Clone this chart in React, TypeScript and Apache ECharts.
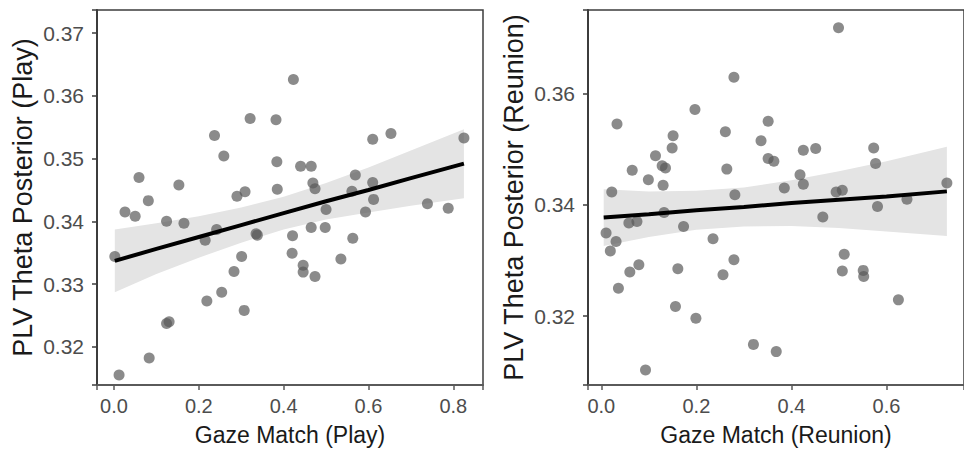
import React, { useEffect, useRef } from "react";
import * as echarts from "echarts";

// ---- Left panel (Play) ----
const playX = [0.423, 0.321, 0.382, 0.237, 0.610, 0.653, 0.825, 0.259, 0.384, 0.440, 0.465, 0.059, 0.153, 0.569, 0.469, 0.474, 0.385, 0.610, 0.290, 0.309, 0.081, 0.561, 0.612, 0.739, 0.788, 0.026, 0.050, 0.124, 0.165, 0.002, 0.215, 0.242, 0.335, 0.338, 0.500, 0.465, 0.498, 0.421, 0.420, 0.301, 0.283, 0.254, 0.219, 0.307, 0.446, 0.446, 0.474, 0.535, 0.563, 0.593, 0.124, 0.130, 0.083, 0.012];
const playY = [0.3626, 0.3564, 0.3562, 0.3537, 0.3531, 0.3540, 0.3533, 0.3504, 0.3495, 0.3488, 0.3488, 0.3470, 0.3458, 0.3474, 0.3461, 0.3452, 0.3451, 0.3462, 0.3440, 0.3447, 0.3433, 0.3448, 0.3435, 0.3428, 0.3421, 0.3415, 0.3408, 0.3400, 0.3397, 0.3344, 0.3370, 0.3387, 0.3380, 0.3378, 0.3419, 0.3390, 0.3390, 0.3377, 0.3349, 0.3344, 0.3320, 0.3287, 0.3273, 0.3258, 0.3330, 0.3319, 0.3312, 0.3340, 0.3373, 0.3415, 0.3237, 0.3240, 0.3182, 0.3155];
const playFitX = [0.002, 0.1, 0.2, 0.3, 0.4, 0.5, 0.6, 0.7, 0.825];
const playFitY = [0.3337, 0.3356, 0.3375, 0.3394, 0.3413, 0.3432, 0.3450, 0.3469, 0.3492];
const playUpper = [0.3387, 0.3397, 0.3408, 0.3422, 0.3439, 0.3461, 0.3486, 0.3513, 0.3547];
const playLower = [0.3287, 0.3316, 0.3342, 0.3366, 0.3387, 0.3403, 0.3414, 0.3425, 0.3437];
const playXTicks = [0.0, 0.2, 0.4, 0.6, 0.8];
const playYTicks = [0.32, 0.33, 0.34, 0.35, 0.36, 0.37];
const playXRange = [-0.04, 0.87];
const playYRange = [0.3139, 0.3737];

// ---- Right panel (Reunion) ----
const reunionX = [0.499, 0.279, 0.197, 0.033, 0.351, 0.151, 0.149, 0.261, 0.336, 0.425, 0.451, 0.573, 0.577, 0.114, 0.128, 0.135, 0.065, 0.099, 0.130, 0.264, 0.351, 0.363, 0.418, 0.425, 0.385, 0.494, 0.507, 0.727, 0.022, 0.281, 0.581, 0.643, 0.466, 0.132, 0.058, 0.075, 0.173, 0.010, 0.031, 0.019, 0.235, 0.279, 0.079, 0.060, 0.161, 0.256, 0.036, 0.511, 0.507, 0.551, 0.552, 0.625, 0.156, 0.199, 0.320, 0.368, 0.093];
const reunionY = [0.3718, 0.3629, 0.3571, 0.3545, 0.3550, 0.3524, 0.3502, 0.3531, 0.3515, 0.3498, 0.3501, 0.3502, 0.3474, 0.3488, 0.3470, 0.3466, 0.3462, 0.3445, 0.3435, 0.3464, 0.3483, 0.3478, 0.3454, 0.3437, 0.3430, 0.3423, 0.3426, 0.3439, 0.3423, 0.3418, 0.3397, 0.3410, 0.3378, 0.3386, 0.3367, 0.3370, 0.3361, 0.3349, 0.3334, 0.3317, 0.3339, 0.3301, 0.3292, 0.3279, 0.3285, 0.3274, 0.3250, 0.3311, 0.3281, 0.3282, 0.3271, 0.3229, 0.3217, 0.3196, 0.3149, 0.3136, 0.3103];
const reunionFitX = [0.005, 0.1, 0.2, 0.3, 0.4, 0.5, 0.6, 0.727];
const reunionFitY = [0.3377, 0.3383, 0.3390, 0.3396, 0.3403, 0.3409, 0.3415, 0.3424];
const reunionUpper = [0.3428, 0.3424, 0.3425, 0.3431, 0.3444, 0.3460, 0.3478, 0.3504];
const reunionLower = [0.3326, 0.3342, 0.3355, 0.3361, 0.3362, 0.3358, 0.3352, 0.3344];
const reunionXTicks = [0.0, 0.2, 0.4, 0.6];
const reunionYTicks = [0.32, 0.34, 0.36];
const reunionXRange = [-0.028, 0.763];
const reunionYRange = [0.3076, 0.375];

const FONT = "'Liberation Sans', Arial, sans-serif";
const TICK_COLOR = "#4d4d4d";
const AXIS_COLOR = "#3c3c3c";

function zip(a: number[], b: number[]) {
  return a.map((v, i) => [v, b[i]]);
}

function xAxisOpt(gridIndex: number, range: number[], ticks: number[], step: number, name: string) {
  return {
    type: "value",
    gridIndex,
    position: "bottom",
    min: range[0],
    max: range[1],
    minInterval: step,
    maxInterval: step,
    name,
    nameLocation: "middle",
    nameGap: 38,
    nameTextStyle: { color: "#1a1a1a", fontSize: 23, fontFamily: FONT },
    splitLine: { show: false },
    axisLine: { show: true, onZero: false, lineStyle: { color: "#5a5a5a", width: 2 } },
    axisTick: { show: true, inside: false, length: 5, lineStyle: { color: "#5a5a5a", width: 1.5 } },
    axisLabel: {
      customValues: ticks,
      color: TICK_COLOR,
      fontSize: 20,
      fontFamily: FONT,
      margin: 11,
      formatter: (v: number) => v.toFixed(1),
    },
  };
}

function yAxisOpt(gridIndex: number, range: number[], ticks: number[], step: number, name: string) {
  return {
    type: "value",
    gridIndex,
    position: "left",
    min: range[0],
    max: range[1],
    minInterval: step,
    maxInterval: step,
    name,
    nameLocation: "middle",
    nameGap: 61,
    nameTextStyle: { color: "#1a1a1a", fontSize: 27, fontFamily: FONT },
    splitLine: { show: false },
    axisLine: { show: true, onZero: false, lineStyle: { color: AXIS_COLOR, width: 2 } },
    axisTick: { show: true, inside: false, length: 5, lineStyle: { color: AXIS_COLOR, width: 1.5 } },
    axisLabel: {
      customValues: ticks,
      color: TICK_COLOR,
      fontSize: 21,
      fontFamily: FONT,
      margin: 13,
      formatter: (v: number) => v.toFixed(2),
    },
  };
}

function ribbonSeries(idx: number, xs: number[], up: number[], lo: number[]) {
  return {
    type: "custom",
    xAxisIndex: idx,
    yAxisIndex: idx,
    silent: true,
    z: 1,
    clip: true,
    data: [[xs[0], lo[0]]],
    renderItem: (_params: any, api: any) => {
      const pts: number[][] = [];
      for (let i = 0; i < xs.length; i++) pts.push(api.coord([xs[i], up[i]]));
      for (let i = xs.length - 1; i >= 0; i--) pts.push(api.coord([xs[i], lo[i]]));
      return {
        type: "polygon",
        shape: { points: pts },
        style: { fill: "#e4e4e4", stroke: "none" },
      };
    },
  };
}

function scatterSeries(idx: number, xs: number[], ys: number[]) {
  return {
    type: "scatter",
    xAxisIndex: idx,
    yAxisIndex: idx,
    z: 2,
    symbolSize: 11,
    itemStyle: { color: "#5a5a5a", opacity: 0.7 },
    data: zip(xs, ys),
  };
}

function fitSeries(idx: number, xs: number[], ys: number[]) {
  return {
    type: "line",
    xAxisIndex: idx,
    yAxisIndex: idx,
    z: 3,
    symbol: "none",
    lineStyle: { color: "#000000", width: 4 },
    data: zip(xs, ys),
  };
}

export default function App() {
  const ref = useRef<HTMLDivElement>(null);
  useEffect(() => {
    if (!ref.current) return;
    const chart = echarts.init(ref.current, null, { renderer: "svg" });
    const gridStyle = { show: true, borderColor: AXIS_COLOR, borderWidth: 1.5 };
    chart.setOption({
      animation: false,
      backgroundColor: "#ffffff",
      grid: [
        { left: 97, top: 10, width: 386, height: 375, ...gridStyle },
        { left: 588, top: 10, width: 384, height: 375, ...gridStyle },
      ],
      xAxis: [
        xAxisOpt(0, playXRange, playXTicks, 0.2, "Gaze Match (Play)"),
        xAxisOpt(1, reunionXRange, reunionXTicks, 0.2, "Gaze Match (Reunion)"),
      ],
      yAxis: [
        yAxisOpt(0, playYRange, playYTicks, 0.01, "PLV Theta Posterior (Play)"),
        yAxisOpt(1, reunionYRange, reunionYTicks, 0.02, "PLV Theta Posterior (Reunion)"),
      ],
      series: [
        ribbonSeries(0, playFitX, playUpper, playLower),
        scatterSeries(0, playX, playY),
        fitSeries(0, playFitX, playFitY),
        ribbonSeries(1, reunionFitX, reunionUpper, reunionLower),
        scatterSeries(1, reunionX, reunionY),
        fitSeries(1, reunionFitX, reunionFitY),
      ],
    });
    return () => chart.dispose();
  }, []);
  return (
    <div
      ref={ref}
      style={{ position: "absolute", left: 0, top: 0, width: 964, height: 451 }}
    />
  );
}
